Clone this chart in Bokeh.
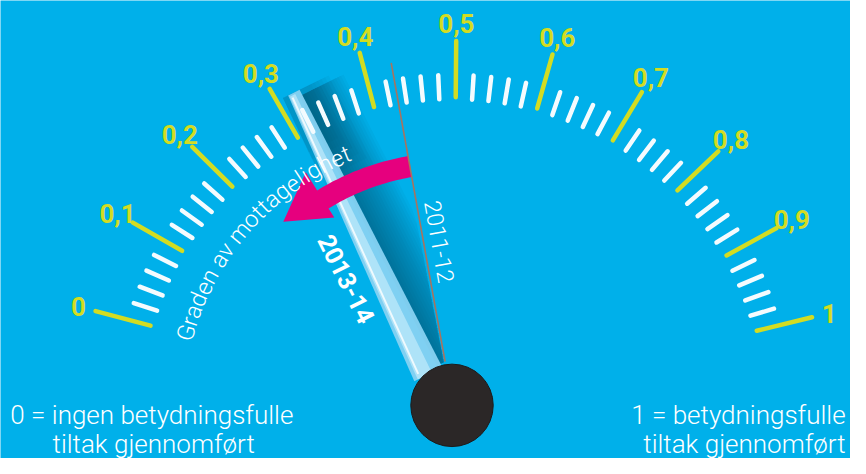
import math
from bokeh.plotting import figure
from bokeh.models import Range1d
from bokeh.core.properties import value
from bokeh.embed import file_html
from bokeh.resources import INLINE

# ---------------- data ----------------
major_values = [0.0, 0.1, 0.2, 0.3, 0.4, 0.5, 0.6, 0.7, 0.8, 0.9, 1.0]
major_labels = ["0", "0,1", "0,2", "0,3", "0,4", "0,5", "0,6", "0,7", "0,8", "0,9", "1"]
minor_step = 0.02
periods = ["2013-14", "2011-12"]
period_values = [0.32, 0.43]
dial_title = "Graden av mottagelighet"
left_note = ["0 = ingen betydningsfulle", "tiltak gjennomført"]
right_note = ["1 = betydningsfulle", "tiltak gjennomført"]

# ---------------- style ----------------
BG = "#00b0ea"
YEL = "#d3dc22"
WHITE = "#f4fbfe"
PINK = "#e6007e"
KNOB = "#2b2727"
DARK = "#003a62"
LINE2011 = "#a8735f"
A0, A1 = 165.0, 14.0          # dial angle (deg) at value 0 and value 1

def ang(v):
    return math.radians(A0 + (A1 - A0) * v)

def polar(r, a):
    return r * math.cos(a), r * math.sin(a)

p = figure(width=850, height=458, x_range=Range1d(-461, 405), y_range=Range1d(-55, 419),
           output_backend="svg", toolbar_location=None,
           x_axis_location=None, y_axis_location=None, min_border=0,
           background_fill_color=BG, border_fill_color=BG, outline_line_color=None)
p.grid.visible = False

th_new = ang(period_values[0])
th_old = ang(period_values[1])
span = th_new - th_old

def npt(th, s, w):
    ux, uy = math.cos(th), math.sin(th)
    nx, ny = uy, -ux
    return s * ux + w * nx, s * uy + w * ny

def needle_poly(th, pts):
    xs, ys = [], []
    for s, w in pts:
        x, y = npt(th, s, w)
        xs.append(x)
        ys.append(y)
    return xs, ys

# ---- soft shadow band right of the needle ----
N = 16
for k in range(N):
    W = 8 + 46 * (k + 1) / N
    pts = []
    for j in range(21):
        s = 44 + (356 - 44) * j / 20
        pts.append((s, min(W, s * math.sin(span) - 1)))
    pts.append((356, 4))
    pts.append((44, 4))
    xs, ys = needle_poly(th_new, pts)
    p.patch(xs, ys, fill_color=DARK, fill_alpha=0.045, line_color=None)
# darker blob at the needle tip
for k in range(6):
    xs, ys = needle_poly(th_new, [(300 - 8 * k, -14), (362, -12), (362, 20 + 4 * k), (300 - 8 * k, 20 + 4 * k)])
    p.patch(xs, ys, fill_color=DARK, fill_alpha=0.045, line_color=None)

# ---- needle ----
xs, ys = needle_poly(th_new, [(40, -24), (362, -6), (362, 7), (40, 8)])
p.patch(xs, ys, fill_color="#86d2f2", fill_alpha=0.95, line_color=None)
xs, ys = needle_poly(th_new, [(40, -20), (360, -5), (360, 1), (40, -4)])
p.patch(xs, ys, fill_color="#d6f2fd", fill_alpha=0.55, line_color=None)
x0, y0 = npt(th_new, 45, -17)
x1, y1 = npt(th_new, 358, -3)
p.segment(x0=[x0], y0=[y0], x1=[x1], y1=[y1], line_color="white", line_alpha=0.8, line_width=2)

# ---- minor ticks ----
n_minor = int(round(1 / minor_step))
mv = [i * minor_step for i in range(n_minor + 1) if i % 5 != 0]
mx0, my0, mx1, my1 = [], [], [], []
for v in mv:
    a = ang(v)
    x, y = polar(317, a); mx0.append(x); my0.append(y)
    x, y = polar(342, a); mx1.append(x); my1.append(y)
p.segment(x0=mx0, y0=my0, x1=mx1, y1=my1, line_color=WHITE, line_width=4.5, line_cap="round")

# ---- major ticks + labels ----
Mx0, My0, Mx1, My1, lx, ly = [], [], [], [], [], []
for v in major_values:
    a = ang(v)
    x, y = polar(319, a); Mx0.append(x); My0.append(y)
    x, y = polar(377, a); Mx1.append(x); My1.append(y)
    x, y = polar(395, a); lx.append(x); ly.append(y)
p.segment(x0=Mx0, y0=My0, x1=Mx1, y1=My1, line_color=YEL, line_width=4.5, line_cap="round")
p.text(x=lx, y=ly, text=major_labels, text_color=YEL, text_font=value("Roboto"),
       text_font_style="bold", text_font_size="26px", text_align="center", text_baseline="middle")

# ---- pink arrow (from previous to current value) ----
r_in, r_out = 240, 262
th_hb = th_new + math.radians(5.2)
th_tip = th_new + math.radians(15.6)
ax, ay = [], []
M = 30
for i in range(M + 1):
    a = th_old + (th_hb - th_old) * i / M
    x, y = polar(r_out, a); ax.append(x); ay.append(y)
for r, a in [(284, th_hb), (257, th_tip), (229, th_hb)]:
    x, y = polar(r, a); ax.append(x); ay.append(y)
for i in range(M + 1):
    a = th_hb - (th_hb - th_old) * i / M
    x, y = polar(r_in, a); ax.append(x); ay.append(y)
p.patch(ax, ay, fill_color=PINK, line_color=None)

# ---- previous value line ----
x0, y0 = polar(46, th_old)
x1, y1 = polar(360, th_old)
p.segment(x0=[x0], y0=[y0], x1=[x1], y1=[y1], line_color=LINE2011, line_width=1.6)

# ---- period labels ----
tx, ty = polar(170, th_new + math.radians(12.9))
p.text(x=[tx], y=[ty], text=[periods[0]], angle=[th_new - math.pi], text_color="white",
       text_font=value("Roboto"), text_font_style="bold", text_font_size="25px",
       text_align="center", text_baseline="middle")
tx, ty = polar(170, th_old - math.radians(5.5))
p.text(x=[tx], y=[ty], text=[periods[1]], angle=[th_old - math.pi], text_color="white",
       text_font=value("Roboto Light"), text_font_size="23px",
       text_align="center", text_baseline="middle")

# ---- curved dial title ----
cw = {"G": .66, "r": .34, "a": .54, "d": .56, "e": .53, "n": .55, " ": .25, "v": .48,
      "m": .87, "o": .57, "t": .33, "g": .56, "l": .24, "i": .24, "h": .55}
fs = 23.5
R = 282
track = 0.5
widths = [cw.get(c, .55) * fs + track for c in dial_title]
total = sum(widths)
mid = math.radians(139.0)
start = mid + total / R / 2
cx, cy, ca, cs = [], [], [], []
cum = 0.0
for c, w in zip(dial_title, widths):
    a = start - (cum + w / 2) / R
    cum += w
    x, y = polar(R, a)
    cx.append(x); cy.append(y); ca.append(a - math.pi / 2); cs.append(c)
p.text(x=cx, y=cy, text=cs, angle=ca, text_color="white", text_font=value("Roboto Light"),
       text_font_size=f"{fs}px", text_align="center", text_baseline="alphabetic")

# ---- notes ----
p.text(x=[-451, -408], y=[-10, -40], text=left_note, text_color="white",
       text_font=value("Roboto Light"), text_font_size="26px",
       text_align="left", text_baseline="alphabetic")
p.text(x=[400, 400], y=[-10, -40], text=right_note, text_color="white",
       text_font=value("Roboto Light"), text_font_size="26px",
       text_align="right", text_baseline="alphabetic")

# ---- knob ----
p.circle(x=[-1], y=[0], radius=42, fill_color=KNOB, line_color="#1c1a1a", line_width=1)

open("out.html", "w").write(file_html(p, INLINE))
